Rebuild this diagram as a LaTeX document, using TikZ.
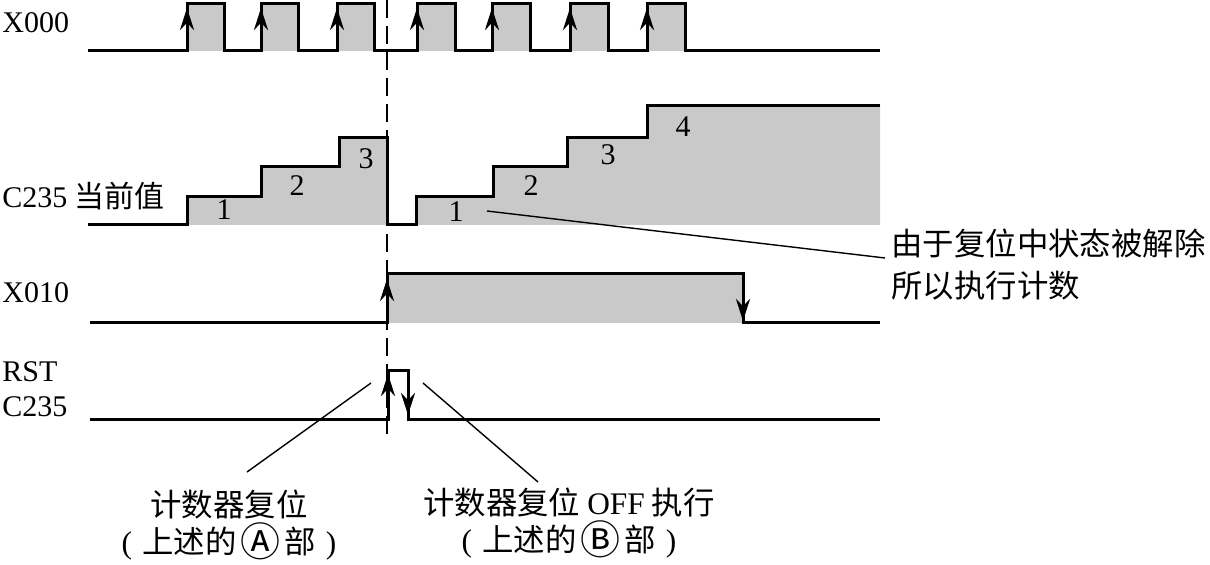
\documentclass[tikz,border=0pt]{standalone}
\usepackage{fontspec}
\setmainfont{Liberation Serif}
\newfontfamily\cjk{Noto Sans CJK SC}
\usepackage{tikz}
\usetikzlibrary{arrows.meta}
\definecolor{fillgray}{gray}{0.79}
\newcommand{\circled}[1]{\hspace{2pt}\raisebox{-1.8pt}{\fontsize{20}{18.5}\selectfont #1}\hspace{2pt}}

\begin{document}
\begin{tikzpicture}[x=0.5pt,y=-0.5pt,>={Stealth[length=11pt,width=7pt]},
  sig/.style={line width=1.5pt},
  lead/.style={line width=0.7pt},
  txt/.style={inner sep=0pt,font=\fontsize{15}{18}\selectfont},
  zh/.style={inner sep=0pt,font=\fontsize{15.7}{18.5}\selectfont\cjk}]
\useasboundingbox (0,0) rectangle (1210,565);

% fills
\foreach \a/\b in {187/224,261/298,337/374,417/455,492/530,570/608,647/685}
  \fill[fillgray] (\a,4) rectangle (\b,51);
\fill[fillgray] (187,225) -- (187,197) -- (261,197) -- (261,167) -- (339,167)
  -- (339,138) -- (387,138) -- (387,225) -- cycle;
\fill[fillgray] (416,225) -- (416,197) -- (493,197) -- (493,167) -- (567,167)
  -- (567,138) -- (647,138) -- (647,106) -- (880,106) -- (880,225) -- cycle;
\fill[fillgray] (387,274) rectangle (743,323);

\draw[line width=1pt,dash pattern=on 9pt off 4pt] (387,0) -- (387,438);

% X000
\draw[sig] (88,51) \foreach \a/\b in {187/224,261/298,337/374,417/455,492/530,570/608,647/685}
  { -- (\a,51) -- (\a,4) -- (\b,4) -- (\b,51) } -- (880,51);
\foreach \a in {187,261,337,417,492,570,647}
  \draw[sig,->] (\a,51) -- (\a,8);

% C235 current value
\draw[sig] (88,225) -- (187,225) -- (187,197) -- (261,197) -- (261,167) -- (339,167)
  -- (339,138) -- (387,138) -- (387,225) -- (416,225) -- (416,197) -- (493,197)
  -- (493,167) -- (567,167) -- (567,138) -- (647,138) -- (647,106) -- (880,106);
\foreach \x/\y/\t [count=\i] in {224/210/1,297/186/2,366/159/3}
  \node[txt] (cntA\i) at (\x,\y) {\t};
\foreach \x/\y/\t [count=\i] in {456/212/1,531/186/2,608/155/3,683/127/4}
  \node[txt] (cntB\i) at (\x,\y) {\t};

% X010
\draw[sig] (90,323) -- (387,323) -- (387,274) -- (743,274) -- (743,323) -- (880,323);
\draw[sig,->] (387,323) -- (387,279);
\draw[sig,->] (743,274) -- (743,321);

% RST C235
\draw[sig] (90,420) -- (388,420) -- (388,371) -- (408,371) -- (408,420) -- (880,420);
\draw[sig,->] (388,420) -- (388,374);
\draw[sig,->] (408,371) -- (408,415);

% labels
\node[txt,anchor=west] (lx000) at (2,23) {X000};
\node[txt,anchor=west] (lc235) at (2,196) {C235 {\cjk 当前值}};
\node[txt,anchor=west] (lx010) at (2,293) {X010};
\node[txt,anchor=west] (lrst) at (2,372) {RST};
\node[txt,anchor=west] (lrstc) at (2,407) {C235};

\node[zh,align=center] (noteA) at (229,525)
  {计数器复位\\{\rmfamily(}\hspace{5pt}上述的\circled{Ⓐ}部\hspace{5pt}{\rmfamily)}};
\node[zh,align=center] (noteB) at (569,523)
  {计数器复位 {\rmfamily OFF} 执行\\{\rmfamily(}\hspace{5pt}上述的\circled{Ⓑ}部\hspace{5pt}{\rmfamily)}};
\node[zh,align=left,anchor=north west,font=\fontsize{15.7}{21}\selectfont\cjk]
  (noteC) at (891,229) {由于复位中状态被解除\\所以执行计数};

% leaders
\coordinate (tipA) at (371,383);
\coordinate (endA) at (247,472);
\coordinate (tipB) at (423,383);
\coordinate (endB) at (538,482);
\coordinate (tipC) at (487,211);
\coordinate (endC) at (885,258);
\draw[lead] (tipA) -- (endA);
\draw[lead] (tipB) -- (endB);
\draw[lead] (tipC) -- (endC);
\end{tikzpicture}
\end{document}
